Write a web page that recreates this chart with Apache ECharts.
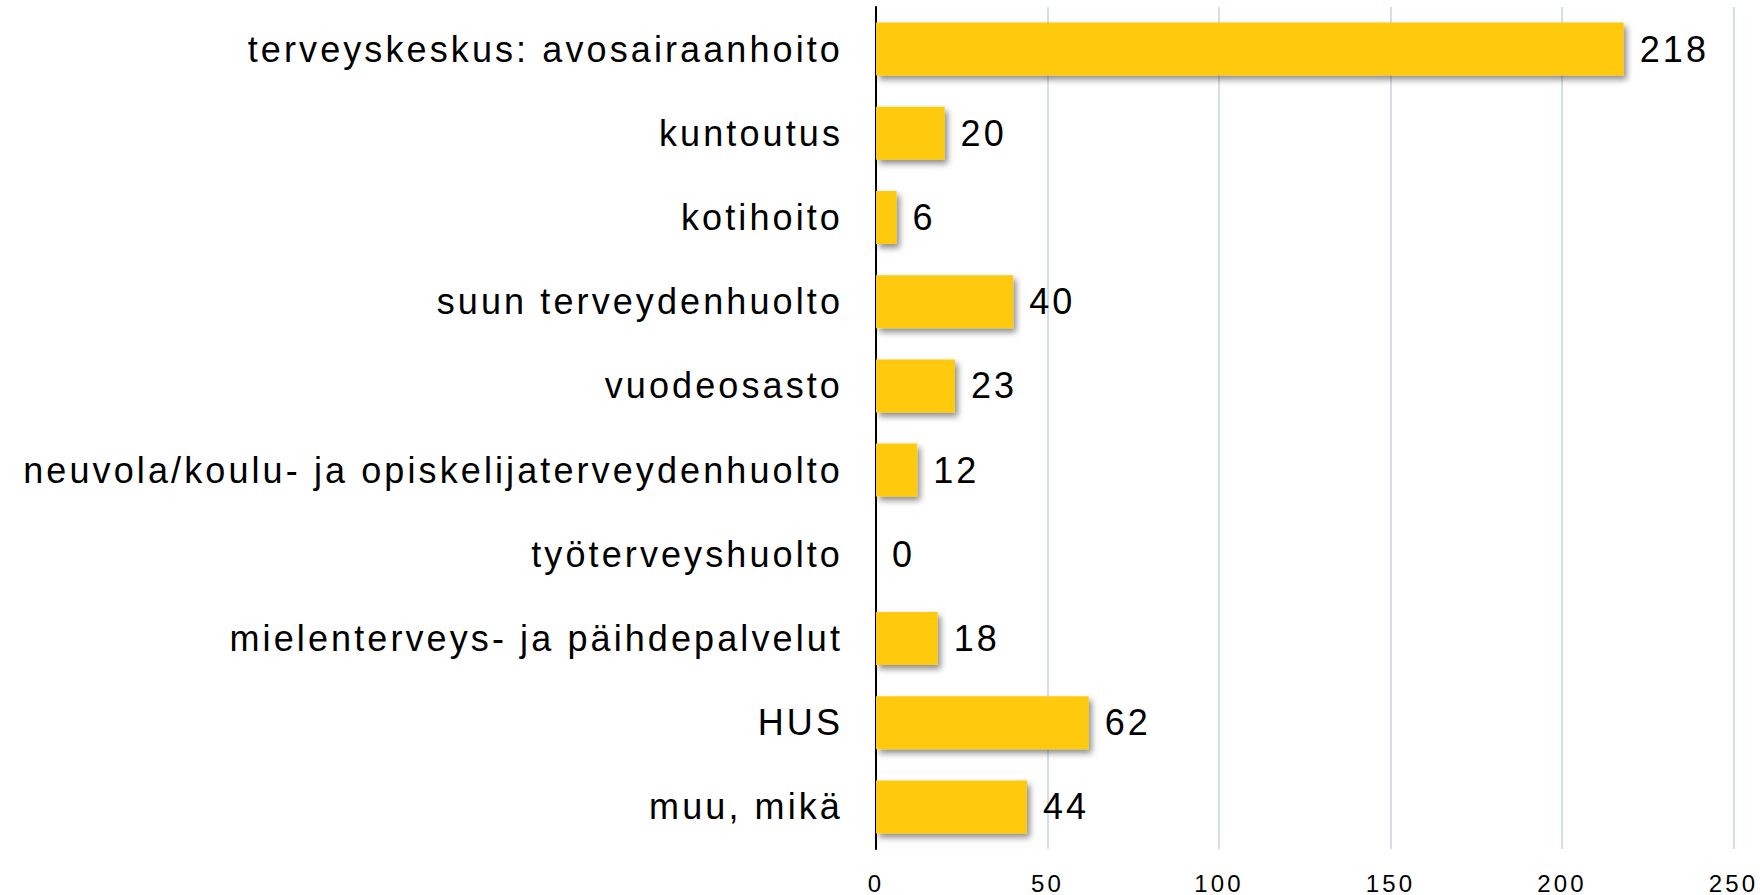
<!DOCTYPE html>
<html>
<head>
<meta charset="utf-8">
<script src="https://cdn.jsdelivr.net/npm/echarts@6/dist/echarts.min.js"></script>
<style>
html, body { margin: 0; padding: 0; background: #fff; }
#chart { width: 1763px; height: 895px; }
#chart text { letter-spacing: 3.1px; }
</style>
</head>
<body>
<div id="chart"></div>
<script>
const categories = [
  "terveyskeskus: avosairaanhoito",
  "kuntoutus",
  "kotihoito",
  "suun terveydenhuolto",
  "vuodeosasto",
  "neuvola/koulu- ja opiskelijaterveydenhuolto",
  "työterveyshuolto",
  "mielenterveys- ja päihdepalvelut",
  "HUS",
  "muu, mikä"
];
const values = [218, 20, 6, 40, 23, 12, 0, 18, 62, 44];
const xTicks = { min: 0, max: 250, interval: 50 };

const chart = echarts.init(document.getElementById('chart'), null, { renderer: 'svg' });
const font = '"Liberation Sans", Arial, Helvetica, sans-serif';
chart.setOption({
  animation: false,
  backgroundColor: '#ffffff',
  grid: { left: 876, right: 29.5, top: 7, bottom: 45 },
  xAxis: {
    type: 'value',
    min: xTicks.min, max: xTicks.max, interval: xTicks.interval,
    axisLine: { show: false },
    axisTick: { show: false },
    splitLine: { show: true, lineStyle: { color: '#D5DFEA', width: 2 } },
    axisLabel: { color: '#000', fontSize: 24, fontFamily: font, margin: 22 }
  },
  yAxis: {
    type: 'category',
    data: categories,
    inverse: true,
    axisLine: { show: true, lineStyle: { color: '#000', width: 2 } },
    axisTick: { show: false },
    axisLabel: { color: '#000', fontSize: 36, fontFamily: font, margin: 33 }
  },
  series: [{
    type: 'bar',
    data: values,
    barCategoryGap: '37%',
    itemStyle: {
      color: '#FFC90A',
      shadowColor: 'rgba(0,0,0,0.45)',
      shadowBlur: 6,
      shadowOffsetX: 3,
      shadowOffsetY: 4
    },
    label: {
      show: true,
      position: 'right',
      distance: 16,
      color: '#000',
      fontSize: 36,
      fontFamily: font
    }
  }]
});
</script>
</body>
</html>
